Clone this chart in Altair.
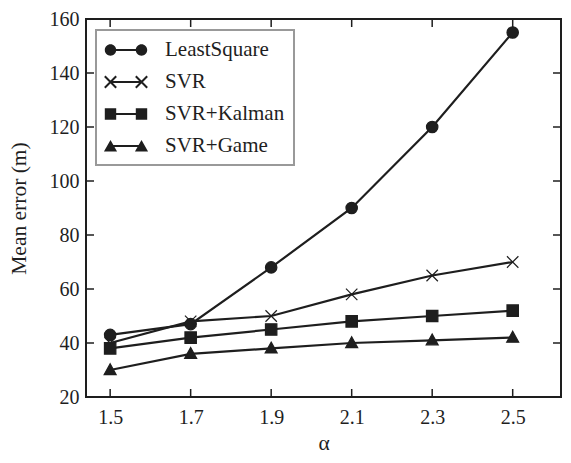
import altair as alt
import pandas as pd

# ---- data ----
alphas = [1.5, 1.7, 1.9, 2.1, 2.3, 2.5]
least_square = [43, 47, 68, 90, 120, 155]
svr = [40, 48, 50, 58, 65, 70]
svr_kalman = [38, 42, 45, 48, 50, 52]
svr_game = [30, 36, 38, 40, 41, 42]
series_names = ["LeastSquare", "SVR", "SVR+Kalman", "SVR+Game"]
x_ticks = [1.5, 1.7, 1.9, 2.1, 2.3, 2.5]
y_ticks = [20, 40, 60, 80, 100, 120, 140, 160]

values = [least_square, svr, svr_kalman, svr_game]
rows = []
for name, vals in zip(series_names, values):
    for a, v in zip(alphas, vals):
        rows.append({"alpha": a, "err": v, "series": name})
df = pd.DataFrame(rows)

W, H = 475, 378
INK = "#1e1e1e"
FONT = "Liberation Serif"
TICK = 8

x_scale = alt.Scale(domain=[1.44, 2.62], nice=False, zero=False)
y_scale = alt.Scale(domain=[20, 160], nice=False, zero=False)

x_enc = alt.X("alpha:Q", scale=x_scale,
              axis=alt.Axis(values=x_ticks, format=".1f", title="α", ticks=False,
                            domain=False, grid=False, labelPadding=10, titlePadding=22,
                            titleBaseline="alphabetic"))
y_enc = alt.Y("err:Q", scale=y_scale,
              axis=alt.Axis(values=y_ticks, title="Mean error (m)", ticks=False,
                            domain=False, grid=False, labelPadding=7, titlePadding=19))

base = alt.Chart(df).encode(x=x_enc, y=y_enc)

lines = base.mark_line(color=INK, strokeWidth=2.2).encode(detail="series:N")

point_paths = [
    "M-1,0A1,1,0,1,1,1,0A1,1,0,1,1,-1,0Z",
    "M-1,-1L1,1M-1,1L1,-1",
    "M-1,-1H1V1H-1Z",
    "M0,-1.1L1.05,0.8H-1.05Z",
]
points = base.mark_point(filled=True, fill=INK, stroke=INK, strokeWidth=1.2,
                         opacity=1, size=130).encode(
    shape=alt.Shape("series:N", scale=alt.Scale(domain=series_names, range=point_paths),
                    legend=None)
)

# legend glyphs (fill only): a line with a marker at each end, units of 10 px
L, R = -0.55, 2.55   # marker centres
m = 0.57             # marker half-size
t = 0.1              # half thickness of line strokes


def f(v):
    return f"{v:.3f}"


def circ(cx):
    return (f"M{f(cx - m)},0A{m},{m},0,1,1,{f(cx + m)},0"
            f"A{m},{m},0,1,1,{f(cx - m)},0Z")


def bar(x0, y0, x1, y1):
    # thin filled quad from (x0,y0) to (x1,y1), clockwise
    dx, dy = x1 - x0, y1 - y0
    ln = (dx * dx + dy * dy) ** 0.5
    px, py = -dy / ln * t, dx / ln * t
    pts = [(x0 - px, y0 - py), (x1 - px, y1 - py), (x1 + px, y1 + py), (x0 + px, y0 + py)]
    return "M" + "L".join(f"{f(a)},{f(b)}" for a, b in pts) + "Z"


def xmark(cx):
    return bar(cx - m, -m, cx + m, m) + bar(cx - m, m, cx + m, -m)


def sq(cx):
    return f"M{f(cx - m)},{-m}H{f(cx + m)}V{m}H{f(cx - m)}Z"


def tri(cx):
    return f"M{f(cx)},{f(-m * 1.05)}L{f(cx + m * 1.15)},{f(m * 0.95)}H{f(cx - m * 1.15)}Z"


seg = f"M{L},{-t}H{R}V{t}H{L}Z"
legend_paths = [
    circ(L) + circ(R) + seg,
    xmark(L) + xmark(R) + seg,
    sq(L) + sq(R) + seg,
    tri(L) + tri(R) + seg,
]
legend_layer = base.mark_point(filled=True, color=INK, fill=INK,
                               opacity=0, size=400).encode(
    shape=alt.Shape("series:N", scale=alt.Scale(domain=series_names, range=legend_paths),
                    title=None,
                    legend=alt.Legend(orient="none", legendX=10, legendY=11,
                                      symbolSize=400, symbolOpacity=1,
                                      symbolFillColor=INK, labelOffset=38,
                                      labelFont=FONT, labelFontSize=21, labelColor=INK,
                                      padding=9, rowPadding=11,
                                      strokeColor="#999999", fillColor="white"))
)

xt = pd.DataFrame({"alpha": x_ticks})
yt = pd.DataFrame({"err": y_ticks})
bottom_ticks = alt.Chart(xt).mark_rule(color=INK, strokeWidth=1.5).encode(
    x=alt.X("alpha:Q", scale=x_scale), y=alt.value(H), y2=alt.value(H - TICK))
top_ticks = alt.Chart(xt).mark_rule(color=INK, strokeWidth=1.5).encode(
    x=alt.X("alpha:Q", scale=x_scale), y=alt.value(0), y2=alt.value(TICK))
left_ticks = alt.Chart(yt).mark_rule(color=INK, strokeWidth=1.5).encode(
    y=alt.Y("err:Q", scale=y_scale), x=alt.value(0), x2=alt.value(TICK))
right_ticks = alt.Chart(yt).mark_rule(color=INK, strokeWidth=1.5).encode(
    y=alt.Y("err:Q", scale=y_scale), x=alt.value(W), x2=alt.value(W - TICK))

chart = alt.layer(
    bottom_ticks, top_ticks, left_ticks, right_ticks, lines, points, legend_layer
).resolve_scale(shape="independent").properties(
    width=W, height=H,
    autosize=alt.AutoSizeParams(type="none"),
    padding={"left": 78, "top": 11, "right": 2, "bottom": 58},
).configure_view(stroke=INK, strokeWidth=2).configure_axis(
    labelFont=FONT, labelFontSize=20, labelColor=INK,
    titleFont=FONT, titleFontSize=21.5, titleColor=INK, titleFontWeight="normal",
).configure_legend(strokeWidth=2)

chart.save("out.html", embed_options={"renderer": "svg", "actions": False})
